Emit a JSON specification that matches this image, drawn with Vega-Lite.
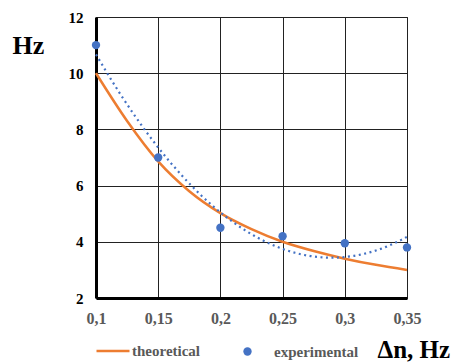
{
  "$schema": "https://vega.github.io/schema/vega-lite/v6.json",
  "width": 311,
  "height": 281,
  "autosize": "none",
  "padding": {"left": 96, "top": 17, "right": 49, "bottom": 65},
  "background": "white",
  "config": {
    "view": {"stroke": "#222222", "strokeWidth": 1},
    "font": "Liberation Serif"
  },
  "datasets": {
    "theo": [
      {"x": 0.1, "y": 10, "series": "theoretical"},
      {"x": 0.125, "y": 8.3, "series": "theoretical"},
      {"x": 0.15, "y": 6.86, "series": "theoretical"},
      {"x": 0.175, "y": 5.8, "series": "theoretical"},
      {"x": 0.2, "y": 5.02, "series": "theoretical"},
      {"x": 0.225, "y": 4.45, "series": "theoretical"},
      {"x": 0.25, "y": 4.0, "series": "theoretical"},
      {"x": 0.275, "y": 3.67, "series": "theoretical"},
      {"x": 0.3, "y": 3.4, "series": "theoretical"},
      {"x": 0.325, "y": 3.18, "series": "theoretical"},
      {"x": 0.35, "y": 3.0, "series": "theoretical"}
    ],
    "exp": [
      {"x": 0.1, "y": 11.0, "series": "experimental"},
      {"x": 0.15, "y": 7.0, "series": "experimental"},
      {"x": 0.2, "y": 4.5, "series": "experimental"},
      {"x": 0.25, "y": 4.2, "series": "experimental"},
      {"x": 0.3, "y": 3.95, "series": "experimental"},
      {"x": 0.35, "y": 3.8, "series": "experimental"}
    ]
  },
  "encoding": {
    "x": {
      "field": "x",
      "type": "quantitative",
      "scale": {"domain": [0.1, 0.35], "nice": false, "zero": false},
      "axis": {
        "values": [0.1, 0.15, 0.2, 0.25, 0.3, 0.35],
        "labelExpr": "replace(format(datum.value, '.2~f'), '.', ',')",
        "labelFont": "Liberation Serif",
        "labelFontWeight": "bold",
        "labelFontSize": 16,
        "labelColor": "#595959",
        "labelPadding": 12,
        "labelFlush": false,
        "ticks": false,
        "domainColor": "#000000",
        "domainWidth": 3,
        "gridColor": "#222222",
        "gridWidth": 1,
        "gridOpacity": 1,
        "title": "Δn, Hz",
        "titleFont": "Liberation Serif",
        "titleFontWeight": "bold",
        "titleFontSize": 25,
        "titleColor": "#000000",
        "titleAlign": "left",
        "titleBaseline": "alphabetic",
        "titleAnchor": null,
        "titleX": 281,
        "titleY": 59
      }
    },
    "y": {
      "field": "y",
      "type": "quantitative",
      "scale": {"domain": [2, 12], "nice": false, "zero": false},
      "axis": {
        "values": [2, 4, 6, 8, 10, 12],
        "labelFont": "Liberation Serif",
        "labelFontWeight": "bold",
        "labelFontSize": 15,
        "labelColor": "#000000",
        "labelPadding": 13,
        "labelFlush": false,
        "ticks": false,
        "domainColor": "#000000",
        "domainWidth": 3,
        "gridColor": "#222222",
        "gridWidth": 1,
        "gridOpacity": 1,
        "title": "Hz",
        "titleFont": "Liberation Serif",
        "titleFontWeight": "bold",
        "titleFontSize": 26,
        "titleColor": "#000000",
        "titleAngle": 0,
        "titleAlign": "left",
        "titleBaseline": "alphabetic",
        "titleAnchor": null,
        "titleX": -84,
        "titleY": 36
      }
    }
  },
  "layer": [
    {
      "data": {"name": "theo"},
      "mark": {"type": "line", "strokeWidth": 2.5, "interpolate": "monotone"},
      "encoding": {
        "stroke": {
          "field": "series",
          "type": "nominal",
          "scale": {"domain": ["theoretical"], "range": ["#ED7D31"]},
          "legend": {
            "orient": "none",
            "legendX": -1,
            "legendY": 316,
            "title": null,
            "symbolType": "stroke",
            "symbolSize": 1089,
            "symbolStrokeWidth": 2.5,
            "labelFont": "Liberation Serif",
            "labelFontWeight": "bold",
            "labelFontSize": 15,
            "labelColor": "#595959",
            "labelOffset": 1
          }
        }
      }
    },
    {
      "data": {"name": "exp"},
      "transform": [
        {"regression": "y", "on": "x", "method": "poly", "order": 2, "extent": [0.1, 0.35]}
      ],
      "mark": {"type": "line", "color": "#4472C4", "strokeWidth": 2.2, "strokeDash": [2, 3.5]},
      "encoding": {}
    },
    {
      "data": {"name": "exp"},
      "mark": {"type": "circle", "opacity": 1, "size": 70},
      "encoding": {
        "fill": {
          "field": "series",
          "type": "nominal",
          "scale": {"domain": ["experimental"], "range": ["#4472C4"]},
          "legend": {
            "orient": "none",
            "legendX": 144,
            "legendY": 327,
            "title": null,
            "symbolType": "circle",
            "symbolSize": 70,
            "symbolOpacity": 1,
            "labelFont": "Liberation Serif",
            "labelFontWeight": "bold",
            "labelFontSize": 15,
            "labelColor": "#595959",
            "labelOffset": 19
          }
        }
      }
    }
  ]
}
